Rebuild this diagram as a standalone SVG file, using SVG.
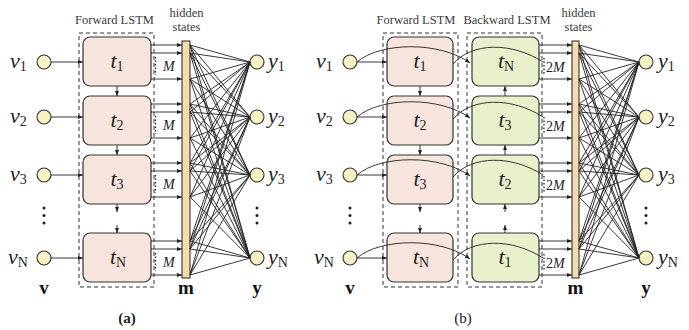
<svg xmlns="http://www.w3.org/2000/svg" width="689" height="330" viewBox="0 0 689 330" font-family="'Liberation Serif', 'Times New Roman', 'DejaVu Serif', serif">
  <style>
    text { font-family: 'Liberation Serif', 'Times New Roman', 'DejaVu Serif', serif; }
    .ttl { font-size: 12.5px; fill: #3a3a3a; text-anchor: middle; }
    .math { font-style: italic; fill: #222; }
    .var { font-size: 22px; }
    .sub { font-style: normal; font-size: 14px; }
    .bold { font-weight: bold; font-size: 19px; fill: #111; text-anchor: middle; }
    .cap { font-size: 15px; fill: #222; text-anchor: middle; }
    .frame { fill: none; stroke: #333; stroke-width: 1; stroke-dasharray: 4 3; }
    .fwd { fill: #f6e4dd; stroke: #333; stroke-width: 1.2; }
    .bwd { fill: #e9f0cc; stroke: #333; stroke-width: 1.2; }
    .io { fill: #f6f2c4; stroke: #333; stroke-width: 1.1; }
    .bar { fill: #f6dbab; stroke: #333; stroke-width: 1.1; }
    .ln { fill: none; stroke: #222; stroke-width: 0.9; }
    .arr { fill: none; stroke: #222; stroke-width: 0.9; marker-end: url(#ah); }
    .dots { fill: none; stroke: #222; stroke-width: 1.3; stroke-dasharray: 1.5 2; }
  </style>
  <defs>
    <marker id="ah" markerUnits="userSpaceOnUse" markerWidth="6" markerHeight="5" refX="5" refY="2" orient="auto">
      <path d="M0,0 L5,2 L0,4 z" fill="#222"/>
    </marker>
  </defs>

  <!-- ===== panel (a) ===== -->
  <g id="a-titles">
    <text class="ttl" x="114.5" y="24">Forward LSTM</text>
    <text class="ttl" x="186.5" y="17">hidden</text>
    <text class="ttl" x="186.5" y="30.5">states</text>
  </g>
  <rect class="frame" x="79" y="33" width="75" height="254"/>

  <g id="a-v1"><circle class="io" cx="44" cy="62" r="7"/><text class="math var" x="10" y="68">v<tspan class="sub" dy="3">1</tspan></text></g>
  <g id="a-v2"><circle class="io" cx="44" cy="117" r="7"/><text class="math var" x="10" y="123">v<tspan class="sub" dy="3">2</tspan></text></g>
  <g id="a-v3"><circle class="io" cx="44" cy="175" r="7"/><text class="math var" x="10" y="181">v<tspan class="sub" dy="3">3</tspan></text></g>
  <g id="a-vN"><circle class="io" cx="44" cy="258" r="7"/><text class="math var" x="8" y="264">v<tspan class="sub" font-style="italic" dy="3">N</tspan></text></g>
  <g id="a-vdots" fill="#222"><circle cx="44" cy="208" r="1.5"/><circle cx="44" cy="215.5" r="1.5"/><circle cx="44" cy="223" r="1.5"/></g>

  <g id="a-t1"><rect class="fwd" x="83" y="37" width="68" height="49" rx="7"/><text class="math var" x="117" y="68" text-anchor="middle">t<tspan class="sub" dy="3">1</tspan></text></g>
  <g id="a-t2"><rect class="fwd" x="83" y="96" width="68" height="49" rx="7"/><text class="math var" x="117" y="127" text-anchor="middle">t<tspan class="sub" dy="3">2</tspan></text></g>
  <g id="a-t3"><rect class="fwd" x="83" y="155" width="68" height="49" rx="7"/><text class="math var" x="117" y="186" text-anchor="middle">t<tspan class="sub" dy="3">3</tspan></text></g>
  <g id="a-tN"><rect class="fwd" x="83" y="233" width="68" height="49" rx="7"/><text class="math var" x="118" y="264" text-anchor="middle">t<tspan class="sub" font-style="italic" dy="3">N</tspan></text></g>

  <g id="a-hidden"><rect class="bar" x="182" y="41" width="8" height="237"/></g>

  <g id="a-y1"><circle class="io" cx="257" cy="62" r="7"/><text class="math var" x="268" y="68">y<tspan class="sub" dy="3">1</tspan></text></g>
  <g id="a-y2"><circle class="io" cx="257" cy="117" r="7"/><text class="math var" x="268" y="123">y<tspan class="sub" dy="3">2</tspan></text></g>
  <g id="a-y3"><circle class="io" cx="257" cy="175" r="7"/><text class="math var" x="268" y="181">y<tspan class="sub" dy="3">3</tspan></text></g>
  <g id="a-yN"><circle class="io" cx="257" cy="258" r="7"/><text class="math var" x="268" y="264">y<tspan class="sub" font-style="italic" dy="3">N</tspan></text></g>
  <g id="a-ydots" fill="#222"><circle cx="257" cy="208" r="1.5"/><circle cx="257" cy="215.5" r="1.5"/><circle cx="257" cy="223" r="1.5"/></g>

  <g id="a-labels">
    <text class="math" x="163" y="71" font-size="14">M</text>
    <text class="math" x="163" y="130" font-size="14">M</text>
    <text class="math" x="163" y="189" font-size="14">M</text>
    <text class="math" x="163" y="267" font-size="14">M</text>
    <text class="bold" x="44" y="294">v</text>
    <text class="bold" x="186" y="294">m</text>
    <text class="bold" x="257" y="294">y</text>
    <text class="cap" x="127" y="323" font-weight="bold">(a)</text>
  </g>

  <!-- ===== panel (b) ===== -->
  <g id="b-titles">
    <text class="ttl" x="416" y="24">Forward LSTM</text>
    <text class="ttl" x="507" y="24">Backward LSTM</text>
    <text class="ttl" x="578.5" y="17">hidden</text>
    <text class="ttl" x="578.5" y="30.5">states</text>
  </g>
  <rect class="frame" x="383" y="33" width="75" height="254"/>
  <rect class="frame" x="467" y="33" width="75" height="254"/>

  <g id="b-v1"><circle class="io" cx="350" cy="62" r="7"/><text class="math var" x="316" y="68">v<tspan class="sub" dy="3">1</tspan></text></g>
  <g id="b-v2"><circle class="io" cx="350" cy="117" r="7"/><text class="math var" x="316" y="123">v<tspan class="sub" dy="3">2</tspan></text></g>
  <g id="b-v3"><circle class="io" cx="350" cy="175" r="7"/><text class="math var" x="316" y="181">v<tspan class="sub" dy="3">3</tspan></text></g>
  <g id="b-vN"><circle class="io" cx="350" cy="258" r="7"/><text class="math var" x="314" y="264">v<tspan class="sub" font-style="italic" dy="3">N</tspan></text></g>
  <g id="b-vdots" fill="#222"><circle cx="350" cy="208" r="1.5"/><circle cx="350" cy="215.5" r="1.5"/><circle cx="350" cy="223" r="1.5"/></g>

  <g id="b-f1"><rect class="fwd" x="387" y="37" width="66" height="49" rx="7"/><text class="math var" x="420" y="68" text-anchor="middle">t<tspan class="sub" dy="3">1</tspan></text></g>
  <g id="b-f2"><rect class="fwd" x="387" y="96" width="66" height="49" rx="7"/><text class="math var" x="420" y="127" text-anchor="middle">t<tspan class="sub" dy="3">2</tspan></text></g>
  <g id="b-f3"><rect class="fwd" x="387" y="155" width="66" height="49" rx="7"/><text class="math var" x="420" y="186" text-anchor="middle">t<tspan class="sub" dy="3">3</tspan></text></g>
  <g id="b-fN"><rect class="fwd" x="387" y="233" width="66" height="49" rx="7"/><text class="math var" x="421" y="264" text-anchor="middle">t<tspan class="sub" font-style="italic" dy="3">N</tspan></text></g>

  <g id="b-bN"><rect class="bwd" x="472" y="37" width="67" height="49" rx="7"/><text class="math var" x="506" y="68" text-anchor="middle">t<tspan class="sub" font-style="italic" dy="3">N</tspan></text></g>
  <g id="b-b3"><rect class="bwd" x="472" y="96" width="67" height="49" rx="7"/><text class="math var" x="505" y="127" text-anchor="middle">t<tspan class="sub" dy="3">3</tspan></text></g>
  <g id="b-b2"><rect class="bwd" x="472" y="155" width="67" height="49" rx="7"/><text class="math var" x="505" y="186" text-anchor="middle">t<tspan class="sub" dy="3">2</tspan></text></g>
  <g id="b-b1"><rect class="bwd" x="472" y="233" width="67" height="49" rx="7"/><text class="math var" x="505" y="264" text-anchor="middle">t<tspan class="sub" dy="3">1</tspan></text></g>

  <g id="b-hidden"><rect class="bar" x="572" y="41" width="7" height="237"/></g>

  <g id="b-y1"><circle class="io" cx="646" cy="62" r="7"/><text class="math var" x="658" y="68">y<tspan class="sub" dy="3">1</tspan></text></g>
  <g id="b-y2"><circle class="io" cx="646" cy="117" r="7"/><text class="math var" x="658" y="123">y<tspan class="sub" dy="3">2</tspan></text></g>
  <g id="b-y3"><circle class="io" cx="646" cy="175" r="7"/><text class="math var" x="658" y="181">y<tspan class="sub" dy="3">3</tspan></text></g>
  <g id="b-yN"><circle class="io" cx="646" cy="258" r="7"/><text class="math var" x="658" y="264">y<tspan class="sub" font-style="italic" dy="3">N</tspan></text></g>
  <g id="b-ydots" fill="#222"><circle cx="646" cy="208" r="1.5"/><circle cx="646" cy="215.5" r="1.5"/><circle cx="646" cy="223" r="1.5"/></g>

  <g id="b-labels">
    <text class="math" x="546" y="72" font-size="14"><tspan font-style="normal">2</tspan>M</text>
    <text class="math" x="546" y="131" font-size="14"><tspan font-style="normal">2</tspan>M</text>
    <text class="math" x="546" y="190" font-size="14"><tspan font-style="normal">2</tspan>M</text>
    <text class="math" x="546" y="268" font-size="14"><tspan font-style="normal">2</tspan>M</text>
    <text class="bold" x="350" y="294">v</text>
    <text class="bold" x="575.5" y="294">m</text>
    <text class="bold" x="646" y="294">y</text>
    <text class="cap" x="463" y="323">(b)</text>
  </g>

  <!-- ===== connectors ===== -->
  <g id="connectors">
    <!-- (a) inputs into the forward cells -->
    <path class="arr" d="M51 62H83"/>
    <path class="arr" d="M51 117H83"/>
    <path class="arr" d="M51 175H83"/>
    <path class="arr" d="M51 258H83"/>
    <!-- (a) recurrence -->
    <path class="arr" d="M117 86V96"/>
    <path class="arr" d="M117 145V155"/>
    <path class="arr" d="M117 204V212"/>
    <path class="arr" d="M117 225V233"/>
    <!-- (a) cell outputs into the hidden layer -->
    <path class="arr" d="M151 45H182"/><path class="arr" d="M151 53H182"/><path class="arr" d="M151 79H182"/>
    <path class="arr" d="M151 104H182"/><path class="arr" d="M151 112H182"/><path class="arr" d="M151 138H182"/>
    <path class="arr" d="M151 163H182"/><path class="arr" d="M151 171H182"/><path class="arr" d="M151 197H182"/>
    <path class="arr" d="M151 241H182"/><path class="arr" d="M151 249H182"/><path class="arr" d="M151 275H182"/>
    <path class="dots" d="M155.5 57V75M155.5 116V134M155.5 175V193M155.5 253V271"/>
    <!-- (a) dense layer -->
    <path class="ln" d="M190 45L250 62M190 45L250 117M190 45L250 175M190 45L250 258
      M190 53L250 62M190 53L250 117M190 53L250 175M190 53L250 258
      M190 79L250 62M190 79L250 117M190 79L250 175M190 79L250 258
      M190 104L250 62M190 104L250 117M190 104L250 175M190 104L250 258
      M190 112L250 62M190 112L250 117M190 112L250 175M190 112L250 258
      M190 138L250 62M190 138L250 117M190 138L250 175M190 138L250 258
      M190 163L250 62M190 163L250 117M190 163L250 175M190 163L250 258
      M190 171L250 62M190 171L250 117M190 171L250 175M190 171L250 258
      M190 197L250 62M190 197L250 117M190 197L250 175M190 197L250 258
      M190 241L250 62M190 241L250 117M190 241L250 175M190 241L250 258
      M190 249L250 62M190 249L250 117M190 249L250 175M190 249L250 258
      M190 275L250 62M190 275L250 117M190 275L250 175M190 275L250 258"/>

    <!-- (b) inputs into the forward cells -->
    <path class="arr" d="M357 62H387"/>
    <path class="arr" d="M357 117H387"/>
    <path class="arr" d="M357 175H387"/>
    <path class="arr" d="M357 258H387"/>
    <!-- (b) inputs into the backward cells -->
    <path class="arr" d="M357 62C380 42 440 41 470 63"/>
    <path class="arr" d="M357 117C380 97 440 96 470 118"/>
    <path class="arr" d="M357 175C380 155 440 154 470 176"/>
    <path class="arr" d="M357 258C380 238 440 237 470 259"/>
    <!-- (b) forward outputs joined to the backward outputs -->
    <path class="ln" d="M453 64C472 42 512 42 543 62"/>
    <path class="ln" d="M453 119C472 97 512 97 543 117"/>
    <path class="ln" d="M453 177C472 155 512 155 543 175"/>
    <path class="ln" d="M453 260C472 238 512 238 543 258"/>
    <!-- (b) recurrence: forward down, backward up -->
    <path class="arr" d="M420 86V96"/>
    <path class="arr" d="M420 145V155"/>
    <path class="arr" d="M420 204V212"/>
    <path class="arr" d="M420 225V233"/>
    <path class="arr" d="M505 96V86"/>
    <path class="arr" d="M505 155V145"/>
    <path class="arr" d="M505 233V225"/>
    <path class="arr" d="M505 212V204"/>
    <!-- (b) cell outputs into the hidden layer -->
    <path class="arr" d="M539 45H572"/><path class="arr" d="M539 53H572"/><path class="arr" d="M539 79H572"/>
    <path class="arr" d="M539 104H572"/><path class="arr" d="M539 112H572"/><path class="arr" d="M539 138H572"/>
    <path class="arr" d="M539 163H572"/><path class="arr" d="M539 171H572"/><path class="arr" d="M539 197H572"/>
    <path class="arr" d="M539 241H572"/><path class="arr" d="M539 249H572"/><path class="arr" d="M539 275H572"/>
    <path class="dots" d="M544 58V74M544 117V133M544 176V192M544 254V270"/>
    <!-- (b) dense layer -->
    <path class="ln" d="M579 45L639 62M579 45L639 117M579 45L639 175M579 45L639 258
      M579 53L639 62M579 53L639 117M579 53L639 175M579 53L639 258
      M579 79L639 62M579 79L639 117M579 79L639 175M579 79L639 258
      M579 104L639 62M579 104L639 117M579 104L639 175M579 104L639 258
      M579 112L639 62M579 112L639 117M579 112L639 175M579 112L639 258
      M579 138L639 62M579 138L639 117M579 138L639 175M579 138L639 258
      M579 163L639 62M579 163L639 117M579 163L639 175M579 163L639 258
      M579 171L639 62M579 171L639 117M579 171L639 175M579 171L639 258
      M579 197L639 62M579 197L639 117M579 197L639 175M579 197L639 258
      M579 241L639 62M579 241L639 117M579 241L639 175M579 241L639 258
      M579 249L639 62M579 249L639 117M579 249L639 175M579 249L639 258
      M579 275L639 62M579 275L639 117M579 275L639 175M579 275L639 258"/>
  </g>
</svg>
